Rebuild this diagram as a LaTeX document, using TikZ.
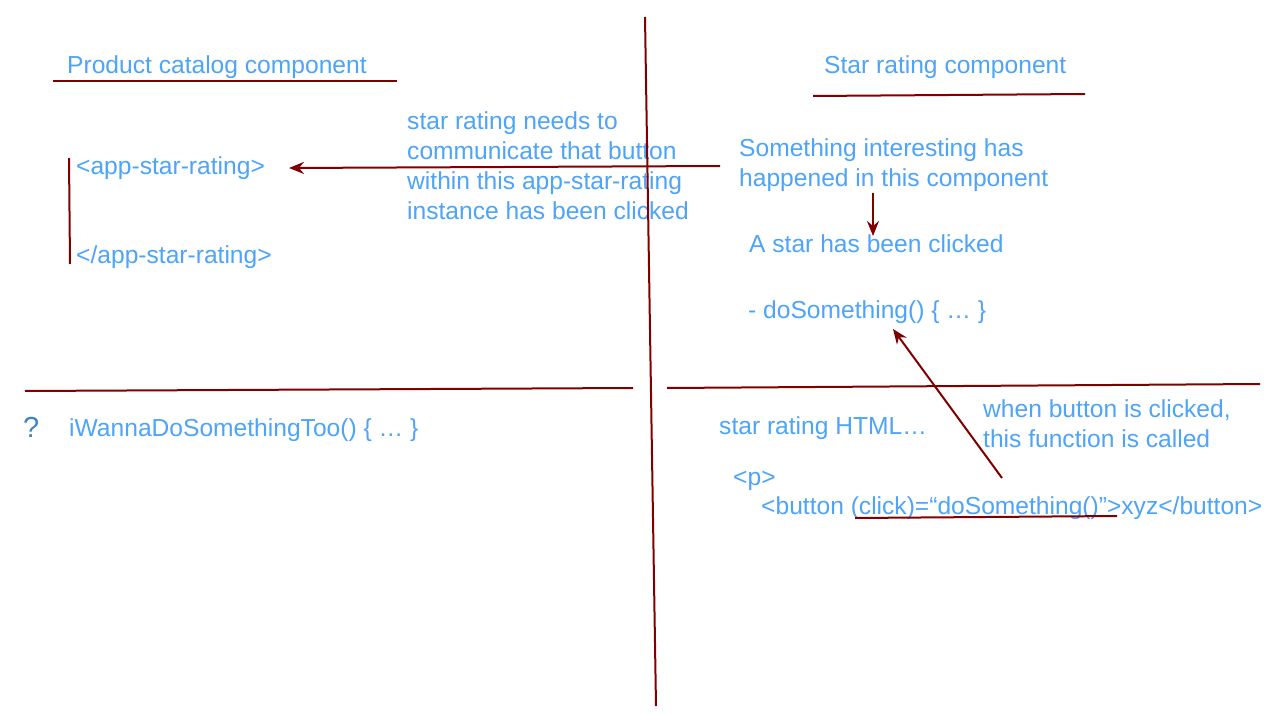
\documentclass[tikz,border=0pt]{standalone}
\usepackage{fontspec}
\setmainfont{Liberation Sans}
\usetikzlibrary{arrows.meta}
\definecolor{txtblue}{RGB}{77,164,248}
\definecolor{qblue}{RGB}{62,132,196}
\definecolor{ink}{RGB}{128,0,0}
\begin{document}
\begin{tikzpicture}[x=1pt,y=-1pt,
  lbl/.style={anchor=base west,inner sep=0pt,text=txtblue,font=\fontsize{24.6}{30}\selectfont},
  stroke/.style={draw=ink,line width=2pt},
  arr/.style={stroke,-{Stealth[length=15pt,width=12pt,inset=5pt]}}]
\useasboundingbox[fill=white] (0,0) rectangle (1280,714);
% coordinates
\coordinate (v1) at (645,17);   \coordinate (v2) at (656,706);
\coordinate (u1a) at (53,81);   \coordinate (u1b) at (397,81);
\coordinate (u2a) at (813,96);  \coordinate (u2b) at (1085,94);
\coordinate (h1a) at (25,391);  \coordinate (h1b) at (633,388);
\coordinate (h2a) at (667,388); \coordinate (h2b) at (1260,384);
\coordinate (br1) at (69,158);  \coordinate (br2) at (70,264);
\coordinate (a1s) at (720,166); \coordinate (a1e) at (289,168);
\coordinate (a2s) at (873,193); \coordinate (a2e) at (873,236);
\coordinate (a3s) at (1002,478);\coordinate (a3e) at (893,329);
\coordinate (ul1) at (855,518); \coordinate (ul2) at (1117,516);
% texts
\node[lbl] (t1) at (67,74) {Product catalog component};
\node[lbl] (t2) at (824,74) {Star rating component};
\node[lbl] (n1) at (407,130) {star rating needs to};
\node[lbl] (n2) at (407,160) {communicate that button};
\node[lbl] (n3) at (407,190) {within this app-star-rating};
\node[lbl] (n4) at (407,220) {instance has been clicked};
\node[lbl] (as1) at (76,175) {<app-star-rating>};
\node[lbl] (as2) at (76,264) {</app-star-rating>};
\node[lbl] (s1) at (739,157) {Something interesting has};
\node[lbl] (s2) at (739,187) {happened in this component};
\node[lbl] (s3) at (749,252) {A star has been clicked};
\node[lbl] (s4) at (748,318) {- doSomething() \{ … \}};
\node[lbl,text=qblue,font=\fontsize{29}{30}\selectfont] (q) at (23,437) {?};
\node[lbl] (iw) at (69,436) {iWannaDoSomethingToo() \{ … \}};
\node[lbl] (sh) at (719,434) {star rating HTML…};
\node[lbl] (w1) at (983,417) {when button is clicked,};
\node[lbl] (w2) at (983,447) {this function is called};
\node[lbl] (p) at (733,485) {<p>};
\node[lbl] (b) at (761,514) {<button (click)=“doSomething()”>xyz</button>};
% lines
\draw[stroke] (v1) -- (v2);
\draw[stroke] (u1a) -- (u1b);
\draw[stroke] (u2a) -- (u2b);
\draw[stroke] (h1a) -- (h1b);
\draw[stroke] (h2a) -- (h2b);
\draw[stroke] (br1) -- (br2);
\draw[stroke] (ul1) -- (ul2);
\draw[arr] (a1s) -- (a1e);
\draw[arr] (a2s) -- (a2e);
\draw[arr] (a3s) -- (a3e);
\end{tikzpicture}
\end{document}
